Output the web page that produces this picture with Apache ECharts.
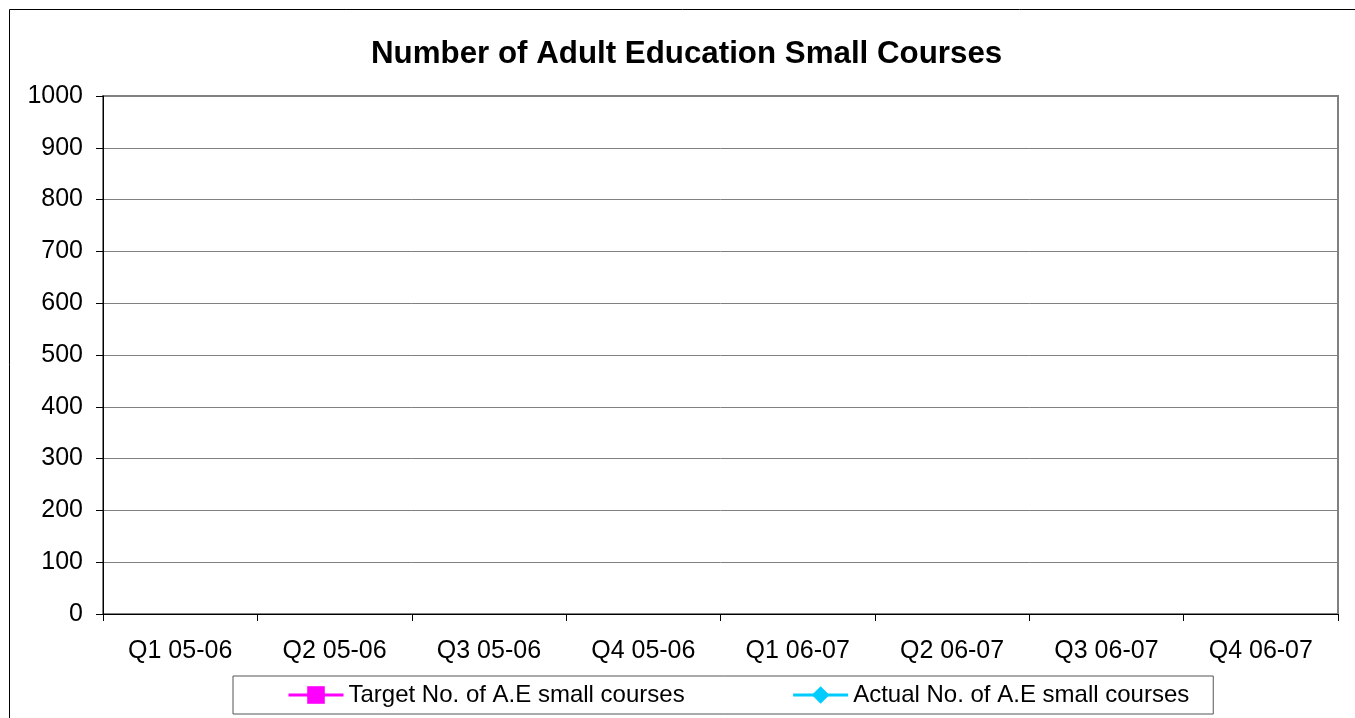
<!DOCTYPE html>
<html>
<head>
<meta charset="utf-8">
<title>Number of Adult Education Small Courses</title>
<script src="https://cdn.jsdelivr.net/npm/echarts@6/dist/echarts.min.js"></script>
<style>
  html, body { margin: 0; padding: 0; background: #fff; }
  #chart { width: 1355px; height: 718px; }
</style>
</head>
<body>
<div id="chart"></div>
<script>
// Quarters shown on the category axis
const quarters = ['Q1 05-06', 'Q2 05-06', 'Q3 05-06', 'Q4 05-06',
                  'Q1 06-07', 'Q2 06-07', 'Q3 06-07', 'Q4 06-07'];
// No figures have been recorded yet for either series
const targetCourses = [null, null, null, null, null, null, null, null];
const actualCourses = [null, null, null, null, null, null, null, null];
// Value axis range
const yMin = 0;
const yMax = 1000;
const yStep = 100;

const FONT = "'Liberation Sans', Arial, sans-serif";
const chart = echarts.init(document.getElementById('chart'), null, { renderer: 'canvas' });

chart.setOption({
  backgroundColor: '#ffffff',
  animation: false,
  textStyle: { fontFamily: FONT, color: '#000' },
  graphic: [{
    type: 'rect',
    silent: true,
    z: -10,
    shape: { x: 9.5, y: 9.5, width: 1400, height: 800 },
    style: { fill: '#ffffff', stroke: '#000000', lineWidth: 1 }
  }],
  title: {
    text: 'Number of Adult Education Small Courses',
    left: 371,
    top: 39,
    padding: 0,
    textStyle: { fontFamily: FONT, fontSize: 31.3, fontWeight: 'bold', color: '#000' }
  },
  legend: {
    left: 233,
    top: 676,
    orient: 'horizontal',
    padding: [7, 24, 7, 54],
    itemGap: 107,
    itemWidth: 55,
    itemHeight: 22,
    borderColor: '#555555',
    borderWidth: 1,
    lineStyle: { width: 3 },
    textStyle: { fontFamily: FONT, fontSize: 24, color: '#000' },
    data: ['Target No. of A.E small courses', 'Actual No. of A.E small courses']
  },
  grid: {
    left: 103,
    right: 17,
    top: 96,
    bottom: 104,
    show: true,
    borderColor: '#808080',
    borderWidth: 2,
    backgroundColor: '#ffffff',
    containLabel: false
  },
  xAxis: {
    type: 'category',
    data: quarters,
    boundaryGap: true,
    axisLine: { show: true, lineStyle: { color: '#000', width: 1 } },
    axisTick: { show: true, length: 7, alignWithLabel: false, lineStyle: { color: '#000' } },
    axisLabel: { fontFamily: FONT, fontSize: 25, color: '#000', margin: 25 },
    splitLine: { show: false }
  },
  yAxis: {
    type: 'value',
    min: yMin,
    max: yMax,
    interval: yStep,
    axisLine: { show: true, lineStyle: { color: '#000', width: 1 } },
    axisTick: { show: true, length: 7, lineStyle: { color: '#000' } },
    axisLabel: {
      fontFamily: FONT, fontSize: 25, color: '#000', margin: 20,
      formatter: function (v) { return String(v); }
    },
    splitLine: { show: true, lineStyle: { color: '#808080', width: 1 } }
  },
  series: [
    {
      name: 'Target No. of A.E small courses',
      type: 'line',
      data: targetCourses,
      symbol: 'rect',
      symbolSize: 14,
      itemStyle: { color: '#FF00FF' },
      lineStyle: { color: '#FF00FF', width: 3 }
    },
    {
      name: 'Actual No. of A.E small courses',
      type: 'line',
      data: actualCourses,
      symbol: 'diamond',
      symbolSize: 16,
      itemStyle: { color: '#00CCFF' },
      lineStyle: { color: '#00CCFF', width: 3 }
    }
  ]
});
</script>
</body>
</html>
